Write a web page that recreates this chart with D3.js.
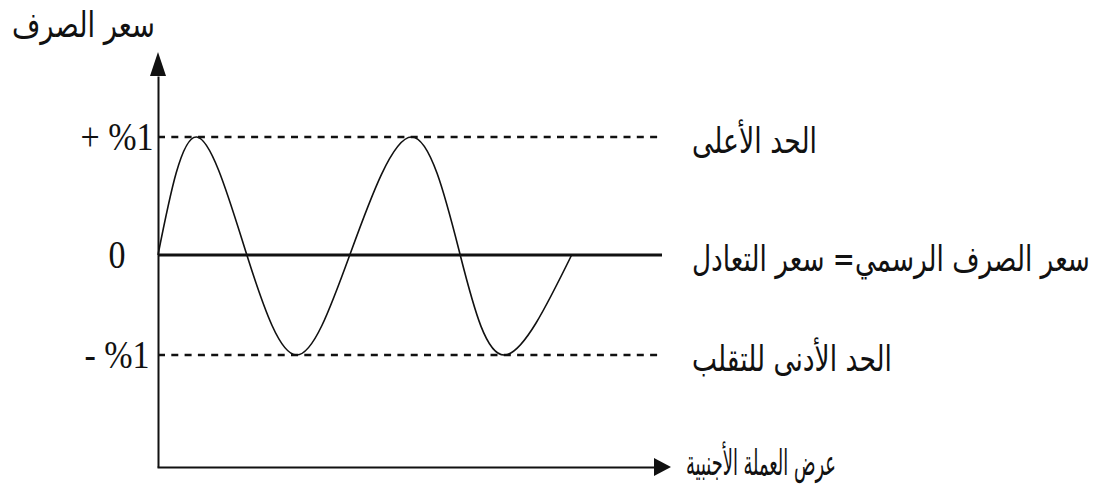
<!DOCTYPE html>
<html lang="ar">
<head>
<meta charset="utf-8">
<script src="https://cdn.jsdelivr.net/npm/d3@7"></script>
<style>
  html, body { margin: 0; padding: 0; background: #fff; }
  svg { display: block; }
</style>
</head>
<body>
<svg id="chart" width="1098" height="490"></svg>
<script>
// Band levels (fluctuation limits around the par rate)
const levelValues = [1, 0, -1];
const levelTickLabels = ["+ %1", "0", "- %1"];
const levelNames = ["الحد الأعلى", "سعر الصرف الرسمي= سعر التعادل", "الحد الأدنى للتقلب"];
const levelStyles = ["dash", "solid", "dash"];

// Exchange-rate oscillation: turning points and crossings
const waveX = [0, 7.7, 17.7, 27.6, 38.2, 50.5, 60.2, 69.1, 82.4];
const waveY = [0, 1, 0, -1, 0, 1, 0, -1, 0];

// Axis titles
const yAxisTitle = "سعر الصرف";
const xAxisTitle = "عرض العملة الأجنبية";

const svg = d3.select("#chart");
const ink = "#111";
const arabicFont = "'DejaVu Sans', sans-serif";

const originX = 158, baseY = 467;
const x = d3.scaleLinear().domain([0, 100]).range([originX, 660]);
const y = d3.scaleLinear().domain([-1, 0, 1]).range([355, 255, 137]);

const numStretch = 1.2;
const arStretch = 1.3;

// Axes: domain lines only, with arrowheads
const yAxisTop = 76;
const yAxisScale = d3.scaleLinear().domain([0, 1]).range([baseY, yAxisTop]);
svg.append("g")
  .attr("transform", `translate(${originX},0)`)
  .call(d3.axisLeft(yAxisScale).tickValues([]).tickSizeOuter(0))
  .call(g => g.select(".domain").attr("stroke", ink).attr("stroke-width", 2));

const xAxisEnd = 655;
const xAxisScale = d3.scaleLinear().domain([0, 1]).range([originX - 1, xAxisEnd]);
svg.append("g")
  .attr("transform", `translate(0,${baseY})`)
  .call(d3.axisBottom(xAxisScale).tickValues([]).tickSizeOuter(0))
  .call(g => g.select(".domain").attr("stroke", ink).attr("stroke-width", 2));

// arrowheads
svg.append("path")
  .attr("d", `M${originX},${yAxisTop - 24} L${originX - 8},${yAxisTop} L${originX + 8},${yAxisTop} Z`)
  .attr("fill", ink);
svg.append("path")
  .attr("d", `M${xAxisEnd + 16},${baseY} L${xAxisEnd - 1},${baseY - 9} L${xAxisEnd - 1},${baseY + 9} Z`)
  .attr("fill", ink);

// Level lines
const levels = levelValues.map((v, i) => ({ v, tick: levelTickLabels[i], name: levelNames[i], style: levelStyles[i] }));

svg.append("g").selectAll("line")
  .data(levels)
  .join("line")
  .attr("x1", x(0))
  .attr("x2", d => d.style === "solid" ? x(100) + 2 : x(100))
  .attr("y1", d => y(d.v))
  .attr("y2", d => y(d.v))
  .attr("stroke", ink)
  .attr("stroke-width", d => d.style === "solid" ? 3 : 2.5)
  .attr("stroke-dasharray", d => d.style === "solid" ? null : "7,6.3");

// Wave
const line = d3.line()
  .x((d, i) => x(waveX[i]))
  .y(d => y(d))
  .curve(d3.curveNatural);

svg.append("path")
  .datum(waveY)
  .attr("d", line)
  .attr("fill", "none")
  .attr("stroke", ink)
  .attr("stroke-width", 1.6);

// Tick labels at the left (kept in left-to-right visual order)
svg.append("g").selectAll("text")
  .data(levels)
  .join("text")
  .attr("transform", d => `translate(117,${y(d.v) + 13}) scale(1,${numStretch})`)
  .attr("text-anchor", "middle")
  .attr("direction", "ltr")
  .attr("unicode-bidi", "bidi-override")
  .style("direction", "ltr")
  .style("unicode-bidi", "bidi-override")
  .attr("font-family", "'Liberation Serif', 'Times New Roman', serif")
  .attr("font-size", 34)
  .attr("fill", ink)
  .text(d => d.tick);

// Arabic text fitted to a given width by horizontal scaling
function fitText(sel, left, baseline, width) {
  sel.attr("font-family", arabicFont)
    .attr("font-size", 27)
    .attr("fill", ink)
    .attr("text-anchor", "start");
  sel.each(function () {
    const w = this.getComputedTextLength();
    const sx = width / w;
    d3.select(this).attr("transform",
      `translate(${left},${baseline}) scale(${sx},${arStretch})`);
  });
}

// Level names at the right
const nameWidths = [125, 398, 200];
svg.append("g").selectAll("text")
  .data(levels)
  .join("text")
  .text(d => d.name)
  .each(function (d, i) {
    fitText(d3.select(this), 692, y(d.v) + 16, nameWidths[i]);
  });

// Axis titles
fitText(svg.append("text").text(yAxisTitle), 12, 37, 143);
fitText(svg.append("text").text(xAxisTitle), 686, 475, 150);
</script>
</body>
</html>
